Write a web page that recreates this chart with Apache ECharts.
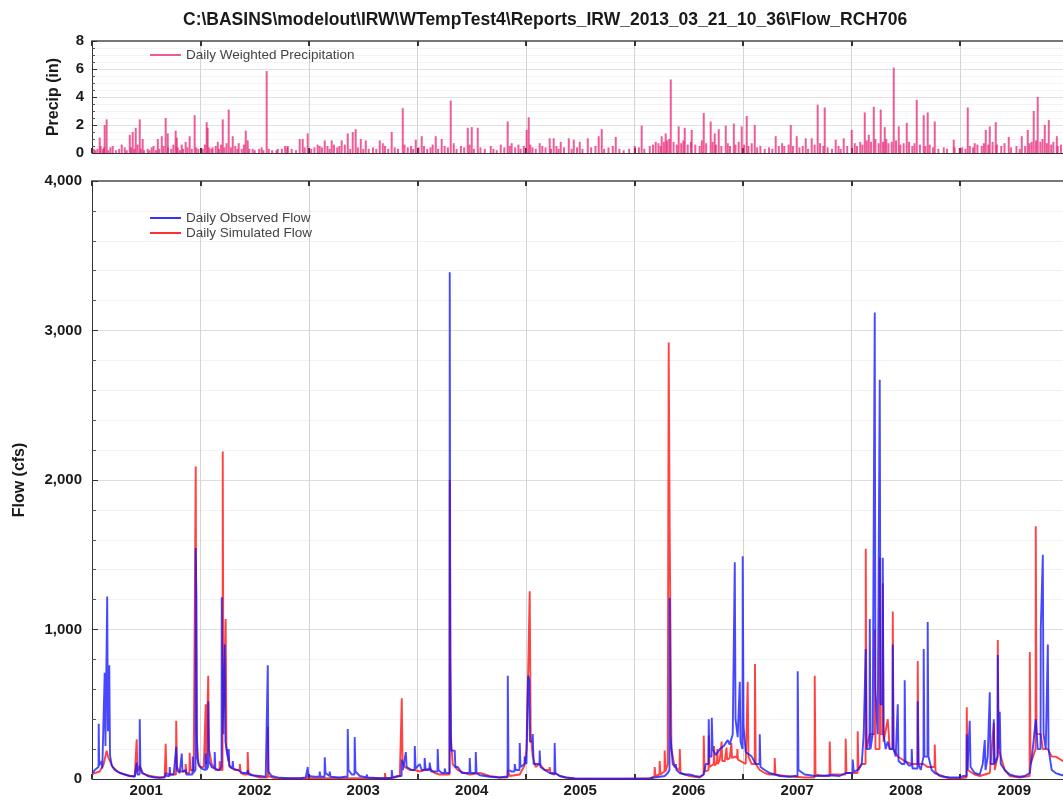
<!DOCTYPE html>
<html>
<head>
<meta charset="utf-8">
<script src="https://cdn.jsdelivr.net/npm/echarts@6/dist/echarts.min.js"></script>
<style>
  html, body { margin: 0; padding: 0; background: #fff; overflow: hidden; }
  #chart { width: 1063px; height: 805px; }
</style>
</head>
<body>
<div id="chart"></div>
<script>
// Time is given in decimal years; the plotted window runs from Jan 1 2001.
const TIME_MIN = 2001;
const TIME_MAX = 2009.995;
const yearLabels = [2001, 2002, 2003, 2004, 2005, 2006, 2007, 2008, 2009];

// Daily weighted precipitation (in), notable storm days
const precipStorms = [
  [2001.016,0.3],[2001.071,1.1],[2001.111,0.4],[2001.117,2.0],[2001.135,2.4],[2001.191,0.5],[2001.274,0.6],
  [2001.302,0.4],[2001.348,1.3],[2001.375,1.5],[2001.403,1.8],[2001.440,2.4],[2001.467,1.0],[2001.513,0.3],
  [2001.568,0.5],[2001.606,1.0],[2001.643,1.2],[2001.679,2.5],[2001.698,1.4],[2001.771,1.6],[2001.781,1.1],
  [2001.827,0.6],[2001.863,0.8],[2001.900,1.2],[2001.946,2.7],
  [2002.057,2.2],[2002.066,1.8],[2002.112,0.4],[2002.159,0.8],[2002.205,2.4],[2002.260,3.1],[2002.297,1.2],
  [2002.352,0.7],[2002.417,1.6],[2002.435,0.9],[2002.481,0.3],[2002.564,0.4],[2002.610,5.85],[2002.629,0.3],
  [2002.712,0.3],[2002.804,0.5],[2002.914,1.0],[2002.942,1.0],[2002.988,1.4],
  [2003.099,0.5],[2003.145,0.9],[2003.209,0.9],[2003.301,0.9],[2003.357,1.4],[2003.403,1.5],[2003.430,1.7],
  [2003.477,1.0],[2003.523,0.9],[2003.652,0.9],[2003.680,0.7],[2003.762,1.5],[2003.864,3.2],[2003.984,0.95],
  [2004.039,1.2],[2004.168,1.2],[2004.223,1.0],[2004.306,3.75],[2004.334,0.7],[2004.463,1.8],[2004.500,1.85],
  [2004.555,1.8],[2004.675,0.5],[2004.767,0.6],[2004.831,2.25],[2004.868,0.7],
  [2005.006,1.65],[2005.025,2.55],[2005.126,0.7],[2005.218,1.05],[2005.255,1.05],[2005.320,0.8],[2005.394,1.05],
  [2005.440,0.95],[2005.495,0.8],[2005.569,1.05],[2005.670,1.2],[2005.698,1.7],[2005.827,1.15],
  [2006.002,0.5],[2006.066,1.95],[2006.195,0.8],[2006.250,1.2],[2006.287,1.4],[2006.334,5.25],[2006.407,1.9],
  [2006.463,1.8],[2006.527,1.65],[2006.638,2.85],[2006.702,2.25],[2006.739,1.4],[2006.776,1.7],[2006.841,1.95],
  [2006.915,2.1],[2006.988,1.9],
  [2007.034,2.65],[2007.108,2.0],[2007.301,1.2],[2007.440,2.0],[2007.495,1.2],[2007.578,1.05],[2007.633,1.05],
  [2007.688,3.45],[2007.753,3.25],[2007.854,0.95],[2007.928,1.05],
  [2008.002,1.65],[2008.122,2.9],[2008.159,1.3],[2008.205,3.3],[2008.269,3.1],[2008.306,1.85],[2008.389,6.1],
  [2008.435,1.9],[2008.509,2.15],[2008.601,3.8],[2008.665,2.7],[2008.702,2.9],[2008.767,2.25],[2008.942,0.95],
  [2008.997,0.35],[2009.071,3.25],[2009.135,0.7],[2009.237,1.65],[2009.274,1.9],[2009.329,2.2],[2009.449,1.15],
  [2009.569,1.2],[2009.624,1.65],[2009.679,3.0],[2009.716,4.0],[2009.781,2.0],[2009.818,2.35],[2009.892,1.2]
];

// Daily weighted precipitation (in), light rain days
const precipLight = [
  [2001.03,0.2],[2001.05,0.3],[2001.08,0.5],[2001.10,0.3],[2001.15,0.2],[2001.17,0.4],[2001.22,0.2],[2001.25,0.3],
  [2001.32,0.2],[2001.36,0.4],[2001.39,0.3],[2001.42,0.6],[2001.45,0.3],[2001.48,0.2],[2001.53,0.2],[2001.55,0.4],
  [2001.59,0.2],[2001.62,0.3],[2001.66,0.5],[2001.70,0.4],[2001.73,0.3],[2001.75,0.6],[2001.79,0.4],[2001.81,0.2],
  [2001.84,0.3],[2001.88,0.4],[2001.92,0.3],[2001.96,0.4],[2001.98,0.3],
  [2002.02,0.3],[2002.04,0.6],[2002.08,0.4],[2002.10,0.3],[2002.14,0.5],[2002.17,0.3],[2002.19,0.6],[2002.22,0.4],
  [2002.24,0.7],[2002.28,0.4],[2002.32,0.5],[2002.34,0.3],[2002.38,0.3],[2002.40,0.6],[2002.45,0.3],[2002.50,0.2],
  [2002.54,0.3],[2002.58,0.2],[2002.66,0.2],[2002.70,0.2],[2002.75,0.3],[2002.78,0.5],[2002.80,0.4],[2002.84,0.3],
  [2002.88,0.2],[2002.96,0.4],
  [2003.02,0.3],[2003.05,0.4],[2003.08,0.6],[2003.12,0.4],[2003.17,0.5],[2003.19,0.3],[2003.23,0.6],[2003.26,0.4],
  [2003.28,0.5],[2003.33,0.6],[2003.38,0.3],[2003.45,0.4],[2003.50,0.3],[2003.55,0.3],[2003.59,0.4],[2003.62,0.3],
  [2003.70,0.5],[2003.73,0.3],[2003.79,0.4],[2003.82,0.3],[2003.88,0.6],[2003.91,0.4],[2003.94,0.5],[2003.96,0.3],
  [2004.01,0.4],[2004.06,0.5],[2004.09,0.3],[2004.12,0.4],[2004.14,0.6],[2004.19,0.3],[2004.25,0.5],[2004.28,0.4],
  [2004.36,0.3],[2004.40,0.5],[2004.43,0.4],[2004.48,0.6],[2004.52,0.3],[2004.58,0.4],[2004.62,0.3],[2004.70,0.3],
  [2004.73,0.2],[2004.80,0.4],[2004.85,0.5],[2004.90,0.4],[2004.93,0.6],[2004.95,0.3],[2004.98,0.5],
  [2005.04,0.6],[2005.06,0.4],[2005.09,0.3],[2005.15,0.5],[2005.18,0.4],[2005.23,0.3],[2005.28,0.5],[2005.30,0.3],
  [2005.35,0.4],[2005.42,0.3],[2005.47,0.4],[2005.52,0.3],[2005.60,0.4],[2005.64,0.5],[2005.72,0.3],[2005.76,0.4],
  [2005.80,0.5],[2005.86,0.3],[2005.90,0.2],[2005.95,0.3],
  [2006.04,0.4],[2006.09,0.3],[2006.14,0.5],[2006.17,0.6],[2006.22,0.7],[2006.24,0.5],[2006.27,0.8],[2006.30,0.9],
  [2006.32,1.0],[2006.36,0.8],[2006.39,0.6],[2006.43,0.7],[2006.45,0.9],[2006.49,0.6],[2006.52,0.8],[2006.56,0.6],
  [2006.60,0.5],[2006.62,0.9],[2006.66,0.7],[2006.72,0.8],[2006.75,0.6],[2006.80,0.5],[2006.86,0.7],[2006.88,0.5],
  [2006.93,0.6],[2006.96,0.8],
  [2007.01,0.6],[2007.05,0.5],[2007.08,0.7],[2007.13,0.4],[2007.16,0.5],[2007.20,0.3],[2007.24,0.4],[2007.27,0.3],
  [2007.33,0.5],[2007.36,0.7],[2007.38,0.5],[2007.42,0.6],[2007.46,0.5],[2007.52,0.4],[2007.55,0.5],[2007.60,0.3],
  [2007.66,0.6],[2007.71,0.7],[2007.74,0.5],[2007.78,0.4],[2007.82,0.3],[2007.88,0.5],[2007.90,0.3],[2007.96,0.5],
  [2008.03,0.7],[2008.05,0.5],[2008.08,0.8],[2008.10,0.6],[2008.14,0.9],[2008.18,0.8],[2008.22,1.0],[2008.25,0.7],
  [2008.29,0.8],[2008.32,1.0],[2008.34,0.7],[2008.37,0.8],[2008.41,0.9],[2008.45,0.6],[2008.48,0.7],[2008.53,0.8],
  [2008.56,0.5],[2008.58,0.7],[2008.63,0.6],[2008.68,0.5],[2008.72,0.6],[2008.75,0.4],[2008.80,0.3],[2008.85,0.4],
  [2008.88,0.3],[2008.95,0.4],
  [2009.02,0.4],[2009.05,0.3],[2009.09,0.5],[2009.12,0.4],[2009.16,0.6],[2009.20,0.5],[2009.22,0.7],[2009.26,0.6],
  [2009.30,0.8],[2009.34,0.6],[2009.38,0.5],[2009.41,0.7],[2009.47,0.4],[2009.52,0.5],[2009.55,0.3],[2009.60,0.5],
  [2009.64,0.7],[2009.66,0.8],[2009.70,0.9],[2009.74,0.8],[2009.76,1.0],[2009.80,0.7],[2009.84,0.6],[2009.86,0.8],
  [2009.90,0.5],[2009.93,0.6]
];

// Daily observed flow (cfs)
const observedFlow = [
  [2001.002,40],[2001.025,60],[2001.043,50],[2001.060,80],[2001.062,370],[2001.066,90],[2001.089,120],[2001.095,70],
  [2001.117,710],[2001.124,220],[2001.140,1220],[2001.147,320],[2001.159,760],[2001.166,160],[2001.182,90],
  [2001.209,60],[2001.255,40],[2001.302,30],[2001.348,20],[2001.394,15],[2001.410,20],[2001.412,110],[2001.418,30],
  [2001.438,30],[2001.440,400],[2001.446,80],[2001.467,40],[2001.513,20],[2001.578,10],[2001.624,8],[2001.670,10],
  [2001.679,40],[2001.690,20],[2001.714,20],[2001.716,80],[2001.722,30],[2001.753,30],[2001.776,215],[2001.783,60],
  [2001.808,40],[2001.825,40],[2001.827,170],[2001.834,50],[2001.863,60],[2001.870,30],[2001.926,30],[2001.928,150],
  [2001.934,40],[2001.954,60],[2001.956,1545],[2001.962,1225],[2001.968,150],[2001.985,90],
  [2002.010,70],[2002.020,60],[2002.046,60],[2002.048,170],[2002.054,60],[2002.069,80],[2002.071,520],[2002.078,120],
  [2002.103,80],[2002.129,70],[2002.131,180],[2002.137,70],[2002.168,60],[2002.194,80],[2002.196,1215],[2002.203,300],
  [2002.221,300],[2002.223,900],[2002.230,250],[2002.258,120],[2002.260,200],[2002.266,90],[2002.295,70],[2002.297,120],
  [2002.303,70],[2002.343,60],[2002.389,40],[2002.433,40],[2002.435,60],[2002.445,30],[2002.472,25],[2002.546,20],
  [2002.601,15],[2002.618,15],[2002.620,760],[2002.626,50],[2002.656,20],[2002.730,8],[2002.822,5],[2002.914,5],
  [2002.970,10],[2002.986,10],[2002.988,80],[2002.994,20],
  [2003.053,15],[2003.097,15],[2003.099,50],[2003.105,15],[2003.143,15],[2003.145,145],[2003.152,40],[2003.189,20],
  [2003.191,50],[2003.198,15],[2003.283,10],[2003.329,15],[2003.355,15],[2003.357,335],[2003.364,60],[2003.394,30],
  [2003.419,30],[2003.421,280],[2003.428,50],[2003.468,20],[2003.530,10],[2003.532,30],[2003.540,10],[2003.652,5],
  [2003.761,5],[2003.763,60],[2003.770,10],[2003.818,20],[2003.853,20],[2003.855,130],[2003.865,60],[2003.892,180],
  [2003.900,80],[2003.947,60],[2003.973,60],[2003.975,220],[2003.982,70],
  [2004.020,100],[2004.039,60],[2004.064,60],[2004.066,140],[2004.075,60],[2004.110,60],[2004.112,110],[2004.125,50],
  [2004.184,50],[2004.186,200],[2004.193,60],[2004.223,40],[2004.249,40],[2004.251,70],[2004.260,40],[2004.295,40],
  [2004.297,3390],[2004.302,800],[2004.310,190],[2004.343,190],[2004.349,80],[2004.371,80],[2004.408,40],[2004.433,40],
  [2004.435,50],[2004.479,40],[2004.481,140],[2004.488,40],[2004.535,40],[2004.537,180],[2004.544,40],[2004.574,25],
  [2004.666,15],[2004.758,10],[2004.804,15],[2004.830,15],[2004.832,690],[2004.839,60],[2004.868,50],[2004.894,50],
  [2004.896,100],[2004.905,60],[2004.940,60],[2004.942,240],[2004.949,80],[2004.986,100],[2004.988,150],
  [2005.004,100],[2005.018,100],[2005.020,690],[2005.030,660],[2005.036,250],[2005.060,250],[2005.062,300],
  [2005.070,100],[2005.124,100],[2005.126,190],[2005.133,80],[2005.172,60],[2005.218,40],[2005.262,30],[2005.264,240],
  [2005.271,40],[2005.311,20],[2005.375,10],[2005.449,3],[2005.679,2],[2006.048,2],
  [2006.140,3],[2006.186,10],[2006.232,15],[2006.278,20],[2006.306,40],[2006.322,60],[2006.324,1210],[2006.330,300],
  [2006.352,100],[2006.378,80],[2006.380,100],[2006.387,60],[2006.417,40],[2006.463,30],[2006.507,30],[2006.509,40],
  [2006.555,20],[2006.601,15],[2006.638,30],[2006.656,100],[2006.682,100],[2006.684,400],[2006.690,150],[2006.710,150],
  [2006.712,410],[2006.720,200],[2006.749,160],[2006.786,200],[2006.822,220],[2006.859,260],[2006.877,230],
  [2006.905,300],[2006.922,300],[2006.924,1450],[2006.931,400],[2006.951,280],[2006.968,280],[2006.970,650],
  [2006.977,250],[2006.995,200],[2006.997,1490],
  [2007.005,350],[2007.025,180],[2007.080,150],[2007.117,100],[2007.152,100],[2007.154,300],[2007.161,80],
  [2007.200,60],[2007.246,40],[2007.292,30],[2007.338,20],[2007.430,15],[2007.477,20],[2007.502,20],[2007.504,720],
  [2007.511,60],[2007.569,30],[2007.661,20],[2007.707,20],[2007.799,25],[2007.891,20],[2007.946,40],
  [2008.009,40],[2008.011,130],[2008.020,50],[2008.057,60],[2008.094,100],[2008.112,300],[2008.129,300],
  [2008.131,870],[2008.138,200],[2008.166,200],[2008.168,1070],[2008.175,200],[2008.195,300],[2008.212,300],
  [2008.214,3120],[2008.220,600],[2008.241,300],[2008.258,300],[2008.260,2670],[2008.267,500],[2008.286,500],
  [2008.288,1480],[2008.295,300],[2008.315,200],[2008.334,250],[2008.352,200],[2008.378,200],[2008.380,900],
  [2008.387,200],[2008.407,150],[2008.424,150],[2008.426,500],[2008.433,120],[2008.463,100],[2008.488,100],
  [2008.490,660],[2008.497,120],[2008.527,90],[2008.553,90],[2008.555,200],[2008.562,70],[2008.608,70],[2008.610,520],
  [2008.617,100],[2008.638,60],[2008.663,150],[2008.665,870],[2008.672,150],[2008.700,150],[2008.702,1050],
  [2008.709,150],[2008.739,60],[2008.767,40],[2008.813,25],[2008.859,15],[2008.905,10],[2008.951,10],[2008.997,10],
  [2009.025,20],[2009.060,20],[2009.062,300],[2009.069,60],[2009.087,60],[2009.089,390],[2009.097,80],[2009.135,40],
  [2009.182,30],[2009.209,100],[2009.226,100],[2009.228,260],[2009.235,60],[2009.255,150],[2009.272,150],
  [2009.274,580],[2009.281,100],[2009.309,100],[2009.311,400],[2009.318,100],[2009.346,150],[2009.348,830],
  [2009.355,200],[2009.366,450],[2009.375,100],[2009.412,60],[2009.458,30],[2009.504,20],[2009.550,15],[2009.596,20],
  [2009.643,40],[2009.670,200],[2009.698,400],[2009.716,200],[2009.742,200],[2009.744,1000],[2009.763,1500],
  [2009.770,300],[2009.790,200],[2009.807,200],[2009.809,900],[2009.816,200],[2009.845,60],[2009.882,40],
  [2009.919,30],[2009.947,25],[2009.995,25]
];

// Daily simulated flow (cfs)
const simulatedFlow = [
  [2001.002,30],[2001.025,40],[2001.071,50],[2001.108,100],[2001.135,190],[2001.147,150],[2001.166,120],[2001.191,80],
  [2001.237,50],[2001.302,30],[2001.348,20],[2001.394,20],[2001.410,20],[2001.412,265],[2001.418,50],[2001.440,90],
  [2001.458,40],[2001.532,20],[2001.624,10],[2001.670,15],[2001.677,15],[2001.679,235],[2001.686,40],[2001.716,30],
  [2001.774,30],[2001.776,390],[2001.783,80],[2001.808,50],[2001.861,50],[2001.863,100],[2001.870,40],[2001.898,40],
  [2001.900,175],[2001.907,60],[2001.937,60],[2001.954,60],[2001.956,2090],[2001.963,300],[2001.982,100],
  [2002.002,80],[2002.030,80],[2002.046,80],[2002.048,500],[2002.054,100],[2002.069,100],[2002.071,690],[2002.078,200],
  [2002.103,100],[2002.140,60],[2002.175,60],[2002.177,120],[2002.184,60],[2002.203,60],[2002.205,2190],[2002.212,300],
  [2002.230,300],[2002.232,1070],[2002.239,200],[2002.269,80],[2002.315,60],[2002.361,60],[2002.363,100],[2002.370,40],
  [2002.408,30],[2002.433,30],[2002.435,180],[2002.442,40],[2002.500,20],[2002.546,10],[2002.618,10],[2002.620,350],
  [2002.626,20],[2002.684,5],[2002.914,3],[2002.986,3],[2002.988,20],[2002.995,5],
  [2003.191,5],[2003.375,5],[2003.560,5],[2003.698,5],[2003.700,40],[2003.707,5],[2003.790,10],[2003.837,20],
  [2003.853,20],[2003.855,540],[2003.862,120],[2003.882,80],[2003.929,60],[2003.975,60],
  [2004.020,50],[2004.066,60],[2004.112,70],[2004.158,40],[2004.204,30],[2004.251,30],[2004.295,30],[2004.297,2000],
  [2004.306,300],[2004.324,100],[2004.371,60],[2004.435,40],[2004.481,30],[2004.574,40],[2004.666,20],[2004.758,10],
  [2004.830,10],[2004.832,60],[2004.850,20],[2004.942,30],[2004.986,90],
  [2005.004,200],[2005.018,200],[2005.020,730],[2005.034,1255],[2005.043,300],[2005.062,150],[2005.089,80],
  [2005.126,100],[2005.172,60],[2005.216,60],[2005.218,80],[2005.226,40],[2005.264,40],[2005.311,20],[2005.357,10],
  [2005.449,3],[2005.900,2],
  [2006.140,3],[2006.184,20],[2006.186,80],[2006.193,20],[2006.230,30],[2006.232,120],[2006.239,30],[2006.276,50],
  [2006.278,190],[2006.285,50],[2006.306,100],[2006.315,2920],[2006.324,1670],[2006.340,200],[2006.370,80],
  [2006.415,60],[2006.417,200],[2006.424,40],[2006.509,20],[2006.601,10],[2006.636,30],[2006.638,290],[2006.645,50],
  [2006.682,60],[2006.684,290],[2006.691,80],[2006.730,100],[2006.733,220],[2006.738,90],[2006.760,110],
  [2006.763,200],[2006.768,100],[2006.786,130],[2006.800,120],[2006.803,250],[2006.808,120],[2006.832,120],
  [2006.845,130],[2006.848,210],[2006.853,130],[2006.877,140],[2006.890,150],[2006.893,240],[2006.898,140],
  [2006.924,150],[2006.945,140],[2006.948,200],[2006.953,130],[2006.970,120],
  [2007.025,100],[2007.041,100],[2007.043,650],[2007.050,150],[2007.080,100],[2007.108,100],[2007.110,770],
  [2007.117,100],[2007.154,60],[2007.200,40],[2007.246,30],[2007.290,30],[2007.292,140],[2007.299,30],[2007.384,20],
  [2007.477,15],[2007.569,10],[2007.659,10],[2007.661,690],[2007.668,30],[2007.745,20],[2007.797,20],[2007.799,250],
  [2007.806,30],[2007.891,30],[2007.944,30],[2007.946,270],[2007.953,40],
  [2008.002,40],[2008.055,40],[2008.057,320],[2008.064,60],[2008.094,100],[2008.129,100],[2008.131,1540],
  [2008.138,200],[2008.168,300],[2008.212,300],[2008.214,1000],[2008.221,200],[2008.258,200],[2008.260,1480],
  [2008.267,300],[2008.286,300],[2008.288,1310],[2008.295,250],[2008.334,400],[2008.352,200],[2008.378,200],
  [2008.380,1120],[2008.387,200],[2008.426,150],[2008.490,120],[2008.555,100],[2008.608,100],[2008.610,790],
  [2008.617,100],[2008.663,100],[2008.700,80],[2008.765,80],[2008.767,230],[2008.774,50],[2008.813,20],[2008.905,5],
  [2008.997,5],
  [2009.060,10],[2009.062,480],[2009.069,60],[2009.135,30],[2009.182,20],[2009.274,40],[2009.311,375],[2009.320,60],
  [2009.346,150],[2009.348,930],[2009.355,200],[2009.412,60],[2009.458,20],[2009.550,10],[2009.641,20],[2009.643,850],
  [2009.650,100],[2009.696,200],[2009.698,1690],[2009.705,300],[2009.744,300],[2009.763,200],[2009.809,200],
  [2009.845,150],[2009.882,150],[2009.947,120],[2009.995,110]
];

const FONT = '"Liberation Sans", Arial, sans-serif';
const tickFont = { fontFamily: FONT, fontSize: 15, fontWeight: 'bold', color: '#1a1a1a' };
const legendFont = { fontFamily: FONT, fontSize: 13.5, color: '#444' };
const withCommas = v => String(v).replace(/\B(?=(\d{3})+(?!\d))/g, ',');

function timeAxis(grid, opts) {
  return Object.assign({
    type: 'value', gridIndex: grid, min: TIME_MIN, max: TIME_MAX, interval: 1,
    axisLabel: { show: false },
    axisLine: { onZero: false, lineStyle: { color: '#333', width: 1 } },
    axisTick: { inside: true, length: 5, lineStyle: { color: '#333', width: 2 } },
    splitLine: { show: false }
  }, opts);
}

const chart = echarts.init(document.getElementById('chart'), null, { renderer: 'canvas' });

chart.setOption({
  animation: false,
  backgroundColor: '#ffffff',
  title: {
    text: 'C:\\BASINS\\modelout\\IRW\\WTempTest4\\Reports_IRW_2013_03_21_10_36\\Flow_RCH706',
    left: 178, top: 6,
    textStyle: { fontFamily: FONT, fontSize: 17.5, fontWeight: 'bold', color: '#1a1a1a' }
  },
  legend: [
    {
      data: ['Daily Weighted Precipitation'],
      left: 145, top: 43, icon: 'rect', itemWidth: 31, itemHeight: 2, itemGap: 4,
      textStyle: legendFont
    },
    {
      data: ['Daily Observed Flow', 'Daily Simulated Flow'],
      orient: 'vertical', left: 145, top: 206, icon: 'rect', itemWidth: 31, itemHeight: 2, itemGap: 1,
      textStyle: legendFont
    }
  ],
  // the plot area runs on past the right edge of the page
  grid: [
    { left: 92, width: 976, top: 41, height: 112, containLabel: false, outerBoundsMode: 'none' },
    { left: 92, width: 976, top: 181, height: 598, containLabel: false, outerBoundsMode: 'none' }
  ],
  xAxis: [
    timeAxis(0, { position: 'bottom', splitLine: { show: true, lineStyle: { color: '#d4d4d4' } } }),
    timeAxis(0, { position: 'top', axisLine: { onZero: false, lineStyle: { color: '#777', width: 2 } } }),
    timeAxis(1, { position: 'bottom', splitLine: { show: true, lineStyle: { color: '#d4d4d4' } } }),
    timeAxis(1, { position: 'top', axisLine: { onZero: false, lineStyle: { color: '#777', width: 2 } } }),
    // year captions sit midway through each year
    timeAxis(1, {
      position: 'bottom', interval: 0.5, axisLine: { show: false }, axisTick: { show: false },
      axisLabel: {
        show: true, margin: 4, ...tickFont,
        formatter: v => {
          const y = Math.floor(v + 1e-6);
          return Math.abs(v - y - 0.5) < 1e-6 && yearLabels.includes(y) ? String(y) : '';
        }
      }
    })
  ],
  yAxis: [
    {
      type: 'value', gridIndex: 0, min: 0, max: 8, interval: 2,
      name: 'Precip (in)', nameLocation: 'middle', nameGap: 30,
      nameTextStyle: { fontFamily: FONT, fontSize: 16, fontWeight: 'bold', color: '#1a1a1a' },
      axisLabel: { ...tickFont, margin: 8 },
      axisLine: { show: true, lineStyle: { color: '#333' } },
      axisTick: { show: true, inside: true, length: 5, lineStyle: { color: '#333' } },
      minorTick: { show: true, splitNumber: 4, length: 3, lineStyle: { color: '#555' } },
      splitLine: { show: true, lineStyle: { color: '#e2e2e2' } },
      minorSplitLine: { show: true, lineStyle: { color: '#f3f3f3' } }
    },
    {
      type: 'value', gridIndex: 1, min: 0, max: 4000, interval: 1000,
      name: 'Flow (cfs)', nameLocation: 'middle', nameGap: 64,
      nameTextStyle: { fontFamily: FONT, fontSize: 16, fontWeight: 'bold', color: '#1a1a1a' },
      axisLabel: { ...tickFont, margin: 10, formatter: withCommas },
      axisLine: { show: true, lineStyle: { color: '#333' } },
      axisTick: { show: true, inside: true, length: 6, lineStyle: { color: '#333' } },
      minorTick: { show: true, splitNumber: 5, length: 4, lineStyle: { color: '#555' } },
      splitLine: { show: true, lineStyle: { color: '#dedede' } },
      minorSplitLine: { show: true, lineStyle: { color: '#f2f2f2' } }
    }
  ],
  series: [
    {
      name: 'Daily Weighted Precipitation', type: 'bar', xAxisIndex: 0, yAxisIndex: 0,
      data: precipLight.concat(precipStorms).sort((a, b) => a[0] - b[0]),
      barWidth: 2, barGap: '-100%',
      itemStyle: { color: 'rgba(232,30,115,0.72)' },
      color: '#e8508f'
    },
    {
      name: 'Daily Simulated Flow', type: 'line', xAxisIndex: 2, yAxisIndex: 1,
      data: simulatedFlow, showSymbol: false, symbol: 'none', clip: true,
      lineStyle: { color: 'rgba(255,20,20,0.8)', width: 1.9 },
      itemStyle: { color: '#ff3030' }
    },
    {
      name: 'Daily Observed Flow', type: 'line', xAxisIndex: 2, yAxisIndex: 1,
      data: observedFlow, showSymbol: false, symbol: 'none', clip: true,
      lineStyle: { color: 'rgba(20,20,255,0.78)', width: 1.9 },
      itemStyle: { color: '#3535ff' }
    }
  ]
});
</script>
</body>
</html>
